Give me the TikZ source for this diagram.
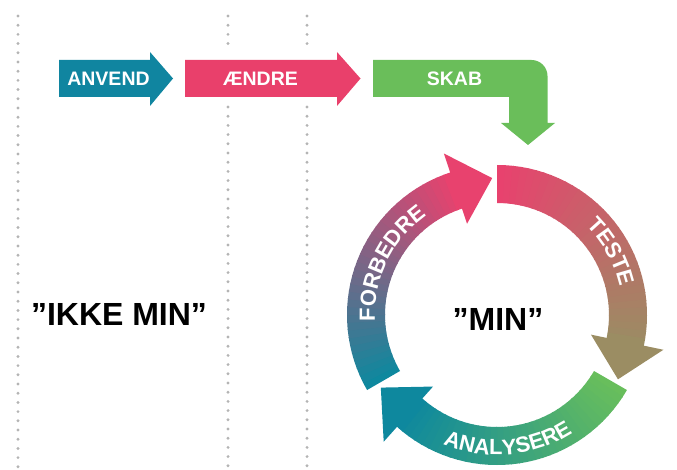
\documentclass[tikz,border=0pt]{standalone}
\usepackage{fontspec}
\setmainfont{Liberation Sans}
\usetikzlibrary{decorations.text}

\definecolor{anvendblue}{RGB}{16,133,160}
\definecolor{aendrered}{RGB}{233,64,107}
\definecolor{skabgreen}{RGB}{106,190,90}
\definecolor{ringpink}{RGB}{232,66,110}
\definecolor{ringgreen}{RGB}{104,190,92}
\definecolor{ringteal}{RGB}{14,136,158}
\definecolor{dotgray}{RGB}{180,180,180}
\colorlet{testeend}{ringgreen!60!ringpink}

\newcommand{\ringfont}{\fontsize{22}{22}\selectfont\bfseries}

% ring arrow: #1 start angle, #2 start colour, #3 end colour
\newcommand{\ringarrow}[3]{%
	\foreach \i in {0,...,33}{
		\pgfmathsetmacro\aS{#1-3*\i}
		\pgfmathsetmacro\aE{#1-3*\i-3.5}
		\pgfmathtruncatemacro\pct{100*\i/33}
		\fill[#3!\pct!#2] (\aS:112pt) arc[start angle=\aS, end angle=\aE, radius=112pt]
			-- (\aE:150pt) arc[start angle=\aE, end angle=\aS, radius=150pt] -- cycle;
	}
	\pgfmathsetmacro\aB{#1-101.8}
	\pgfmathsetmacro\aT{#1-118}
	\fill[#3] (\aB:96pt) -- (\aB:170pt) -- (\aT:137pt) -- cycle;
}

\tikzset{
	dotline/.style={dotgray, line width=3.2pt, line cap=round, dash pattern=on 0pt off 9.2pt},
	arrowlabel/.style={text=white, font=\fontsize{19.5}{20}\selectfont\bfseries, inner sep=0pt, anchor=base},
	bigtext/.style={font=\fontsize{32}{34}\selectfont\bfseries, inner sep=0pt, anchor=base},
	ringtext/.style={decorate, decoration={text along path, text align=center, text color=white, text={|\ringfont|#1}}}
}

\begin{document}
\begin{tikzpicture}[x=1pt, y=1pt]
	\useasboundingbox (0,0) rectangle (677,469);
	\def\yTop{409}  %Oberkante Pfeil
	\def\yBot{372}  %Unterkante Pfeil
	
	%Punktlinien
	\draw[dotline] (18,453) -- (18,0);
	\foreach \x in {228,307}{
		\draw[dotline] (\x,453) -- (\x,418);
		\draw[dotline] (\x,362) -- (\x,0);
	}
	
	%Pfeile oben
	\fill[anvendblue] (59,\yTop) -- (150,\yTop) -- (150,417) -- (173,390.5)
		-- (150,363) -- (150,\yBot) -- (59,\yBot) -- cycle;
	\node[arrowlabel] (anvend) at (108.5,383.5) {ANVEND};
	
	\fill[aendrered] (185,\yTop) -- (337,\yTop) -- (337,417) -- (360.5,390.5)
		-- (337,363) -- (337,\yBot) -- (185,\yBot) -- cycle;
	\node[arrowlabel] (aendre) at (260.5,383.5) {ÆNDRE};
	
	\fill[skabgreen] (373,\yTop) -- (531.5,\yTop) arc[start angle=90, end angle=0, radius=16pt]
		-- (547.5,346) -- (555,346) -- (528,324) -- (501,346) -- (509,346)
		-- (509,\yBot) -- (373,\yBot) -- cycle;
	\node[arrowlabel] (skab) at (454.5,383.5) {SKAB};
	
	%Kreislauf
	\begin{scope}[shift={(497,154)}]
		\ringarrow{90}{ringpink}{testeend}
		\ringarrow{-30}{ringgreen}{ringteal}
		\ringarrow{-150}{ringteal}{ringpink}
		
		\path[ringtext=TESTE] (70:126pt) arc[start angle=70, end angle=-12, radius=126pt];
		\path[ringtext=ANALYSERE] (-140:140pt) arc[start angle=-140, end angle=-30, radius=140pt];
		\path[ringtext=FORBEDRE] (200:122pt) arc[start angle=200, end angle=108, radius=122pt];
	\end{scope}
	
	\node[bigtext] (min) at (498,139) {”MIN”};
	\node[bigtext] (ikkemin) at (119,144) {”IKKE MIN”};
\end{tikzpicture}
\end{document}
